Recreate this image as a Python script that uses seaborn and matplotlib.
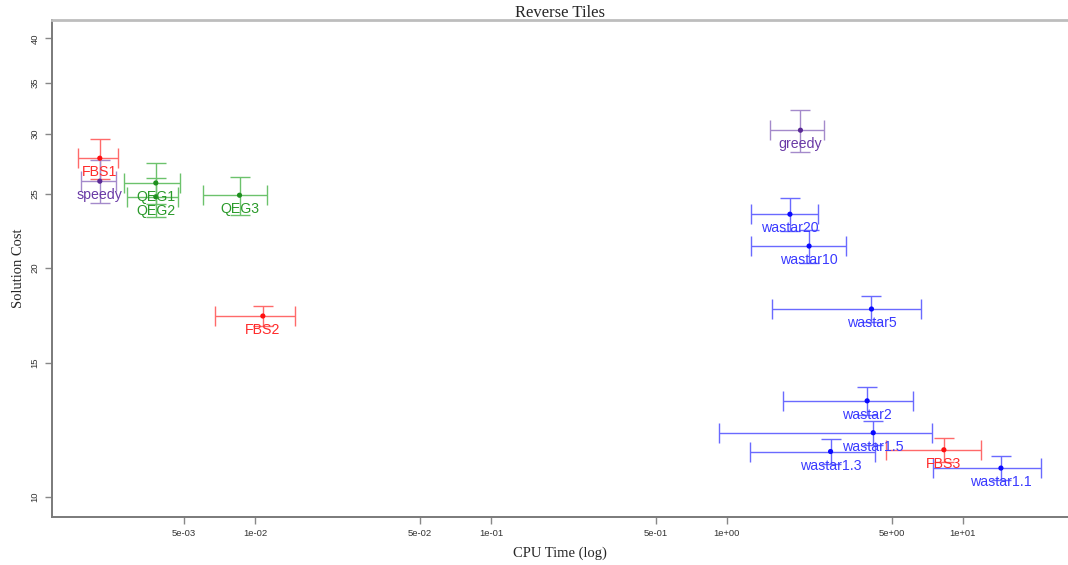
import numpy as np
import pandas as pd
import matplotlib
matplotlib.use("Agg")
import matplotlib.pyplot as plt
import seaborn as sns

# Per-algorithm results: mean CPU time (s) and mean solution cost, with spreads
algorithms = ["FBS1", "speedy", "QEG1", "QEG2", "QEG3", "FBS2", "greedy",
              "wastar20", "wastar10", "wastar5", "wastar2", "wastar1.5",
              "wastar1.3", "FBS3", "wastar1.1"]
families = ["FBS", "speedy", "QEG", "QEG", "QEG", "FBS", "greedy",
            "wastar", "wastar", "wastar", "wastar", "wastar",
            "wastar", "FBS", "wastar"]
cpu_time = [0.0022, 0.0022, 0.0038, 0.0038, 0.0086, 0.0108, 2.05,
            1.85, 2.23, 4.10, 3.93, 4.17,
            2.75, 8.31, 14.5]
cpu_err = [0.00043, 0.00037, 0.00102, 0.00094, 0.0026, 0.0040, 0.53,
           0.59, 0.96, 2.55, 2.20, 3.24,
           1.50, 3.60, 7.0]
cost = [27.85, 25.98, 25.84, 24.78, 24.90, 17.28, 30.31,
        23.51, 21.35, 17.65, 13.37, 12.14,
        11.47, 11.53, 10.91]
cost_err = [1.70, 1.69, 1.57, 1.46, 1.42, 0.53, 1.94,
            1.15, 1.05, 0.70, 0.56, 0.44,
            0.43, 0.41, 0.39]

x_ticks = [5e-3, 1e-2, 5e-2, 1e-1, 5e-1, 1e0, 5e0, 1e1]
x_tick_labels = ["5e-03", "1e-02", "5e-02", "1e-01", "5e-01", "1e+00", "5e+00", "1e+01"]
y_ticks = [10, 15, 20, 25, 30, 35, 40]

point_colors = {"FBS": "#ff1010", "speedy": "#5b2a96", "QEG": "#1f8f1f",
                "greedy": "#5b2a96", "wastar": "#0a0aff"}
bar_colors = {"FBS": "#ff6a6a", "speedy": "#a48acb", "QEG": "#6cc26c",
              "greedy": "#a48acb", "wastar": "#6a6aff"}
text_colors = {"FBS": "#ff2a2a", "speedy": "#6a3aa6", "QEG": "#2a9a2a",
               "greedy": "#6a3aa6", "wastar": "#3a3aff"}

df = pd.DataFrame({"algorithm": algorithms, "family": families,
                   "cpu": cpu_time, "cpu_err": cpu_err,
                   "cost": cost, "cost_err": cost_err})

sns.set_style("white")
plt.rcParams["font.family"] = ["Liberation Sans", "DejaVu Sans"]

fig = plt.figure(figsize=(10.68, 5.65), dpi=100)
ax = fig.add_axes([0.0487, 0.085, 0.9513, 0.8796])

for _, r in df.iterrows():
    ax.errorbar(r["cpu"], r["cost"], xerr=r["cpu_err"], yerr=r["cost_err"],
                fmt="none", ecolor=bar_colors[r["family"]], elinewidth=1.0,
                capsize=7.5, capthick=1.0, zorder=2)

sns.scatterplot(data=df, x="cpu", y="cost", hue="family", palette=point_colors,
                s=14, edgecolor="none", legend=False, ax=ax, zorder=3)

for _, r in df.iterrows():
    ax.annotate(r["algorithm"], (r["cpu"], r["cost"]), xytext=(0, -14),
                textcoords="offset pixels", ha="center", va="center",
                fontsize=10.2, color=text_colors[r["family"]], zorder=4)

ax.set_xscale("log")
ax.set_yscale("log")
ax.set_xlim(1.38e-3, 27.9)
ax.set_ylim(9.41, 42.3)
ax.set_xticks(x_ticks)
ax.set_xticklabels(x_tick_labels)
ax.set_yticks(y_ticks)
ax.set_yticklabels([str(v) for v in y_ticks], rotation=90, va="center")
ax.minorticks_off()
ax.tick_params(axis="both", which="major", direction="out", length=5, width=1,
               color="#888888", labelsize=6.8, labelcolor="#333333", pad=4,
               bottom=True, left=True)

for side in ("left", "bottom"):
    ax.spines[side].set_color("#7a7a7a")
    ax.spines[side].set_linewidth(1.4)
ax.spines["top"].set_color("#bdbdbd")
ax.spines["top"].set_linewidth(2.0)
ax.spines["right"].set_visible(False)

serif = ["Liberation Serif", "DejaVu Serif"]
ax.set_title("Reverse Tiles", family=serif, fontsize=12, pad=2)
ax.set_xlabel("CPU Time (log)", family=serif, fontsize=10.5, labelpad=6)
ax.set_ylabel("Solution Cost", family=serif, fontsize=10.5, labelpad=4)

fig.savefig("out.png", dpi=100)
